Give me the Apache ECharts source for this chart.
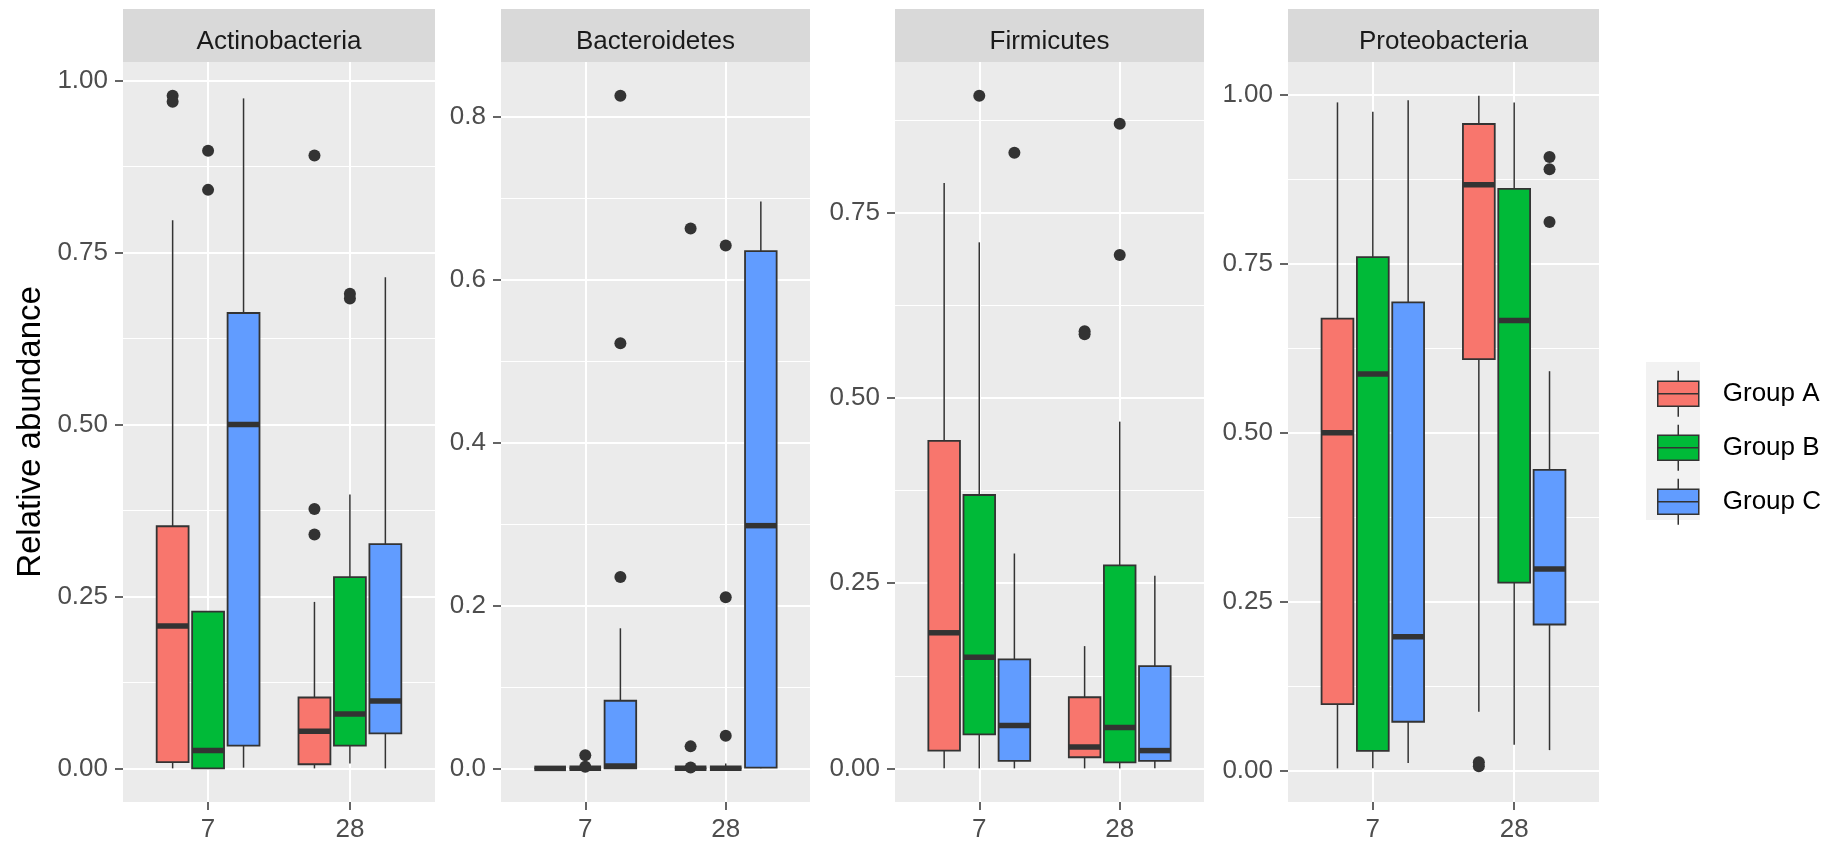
<!DOCTYPE html>
<html>
<head>
<meta charset="utf-8">
<title>Relative abundance by phylum</title>
<script src="https://cdn.jsdelivr.net/npm/echarts@6/dist/echarts.min.js"></script>
<style>
  html, body { margin: 0; padding: 0; background: #fff; }
  #chart { width: 1830px; height: 846px; }
</style>
</head>
<body>
<div id="chart"></div>
<script>
const phyla = ['Actinobacteria', 'Bacteroidetes', 'Firmicutes', 'Proteobacteria'];
const days = ['7', '28'];
const groups = ['Group A', 'Group B', 'Group C'];
const groupColors = ['#F8766D', '#00BA38', '#619CFF'];

// per day, per group: [lower whisker, q1, median, q3, upper whisker]
const actinoBoxes = [
  [[0.000, 0.009, 0.207, 0.352, 0.797], [0.000, 0.000, 0.026, 0.228, 0.228], [0.001, 0.033, 0.500, 0.662, 0.974]],
  [[0.000, 0.006, 0.054, 0.103, 0.242], [0.007, 0.033, 0.079, 0.278, 0.398], [0.000, 0.051, 0.098, 0.326, 0.714]]
];
const actinoOutliers = [
  [[0.978, 0.969], [0.898, 0.841], []],
  [[0.891, 0.377, 0.340], [0.690, 0.683], []]
];

const bacteroBoxes = [
  [[0.000, 0.000, 0.000, 0.000, 0.000], [0.000, 0.000, 0.000, 0.000, 0.000], [0.000, 0.000, 0.003, 0.083, 0.172]],
  [[0.000, 0.000, 0.000, 0.000, 0.000], [0.000, 0.000, 0.000, 0.000, 0.006], [0.000, 0.001, 0.298, 0.635, 0.696]]
];
const bacteroOutliers = [
  [[], [0.016, 0.002], [0.826, 0.522, 0.235]],
  [[0.663, 0.027, 0.001], [0.642, 0.210, 0.040], []]
];

const firmiBoxes = [
  [[0.000, 0.024, 0.183, 0.442, 0.790], [0.000, 0.046, 0.150, 0.369, 0.710], [0.000, 0.010, 0.058, 0.147, 0.290]],
  [[0.000, 0.015, 0.029, 0.096, 0.165], [0.000, 0.008, 0.055, 0.274, 0.468], [0.000, 0.010, 0.024, 0.138, 0.260]]
];
const firmiOutliers = [
  [[], [0.908], [0.831]],
  [[0.590, 0.586], [0.870, 0.693], []]
];

const proteoBoxes = [
  [[0.003, 0.098, 0.500, 0.669, 0.989], [0.003, 0.029, 0.587, 0.760, 0.975], [0.011, 0.072, 0.198, 0.693, 0.992]],
  [[0.087, 0.609, 0.867, 0.957, 0.999], [0.038, 0.278, 0.666, 0.861, 0.989], [0.030, 0.216, 0.298, 0.445, 0.591]]
];
const proteoOutliers = [
  [[], [], []],
  [[0.012, 0.006], [], [0.908, 0.890, 0.812]]
];

// tick labels
const actinoTicks = [0, 0.25, 0.5, 0.75, 1];
const bacteroTicks = [0, 0.2, 0.4, 0.6, 0.8];
const firmiTicks = [0, 0.25, 0.5, 0.75];
const proteoTicks = [0, 0.25, 0.5, 0.75, 1];
const actinoMinor = [0.125, 0.375, 0.625, 0.875];
const bacteroMinor = [0.1, 0.3, 0.5, 0.7];
const firmiMinor = [0.125, 0.375, 0.625, 0.875];
const proteoMinor = [0.125, 0.375, 0.625, 0.875];
const tickDigits = [2, 1, 2, 2];

const boxData = [actinoBoxes, bacteroBoxes, firmiBoxes, proteoBoxes];
const outlierData = [actinoOutliers, bacteroOutliers, firmiOutliers, proteoOutliers];
const majorTicks = [actinoTicks, bacteroTicks, firmiTicks, proteoTicks];
const minorTicks = [actinoMinor, bacteroMinor, firmiMinor, proteoMinor];

// layout (pixels)
const panelLeft = [123, 501, 895, 1288];
const panelWidth = [312, 309, 309, 311];
const panelTop = 62, panelHeight = 740;
const stripTop = 9, stripHeight = 53;

const FONT = '"Liberation Sans", Arial, sans-serif';
const dodge = [-0.25, 0, 0.25];
const boxWidth = 0.225;
const ink = '#333333';

// ggplot-like 5% expansion
function yRange(i) {
  let all = [];
  boxData[i].forEach(d => d.forEach(g => all = all.concat(g)));
  outlierData[i].forEach(d => d.forEach(g => all = all.concat(g)));
  const lo = Math.min(...all), hi = Math.max(...all);
  const pad = (hi - lo) * 0.05;
  return [lo - pad, hi + pad];
}

function renderBox(params, api) {
  const x = api.value(0);
  const pLo = api.coord([x, api.value(1)]);
  const pQ1 = api.coord([x, api.value(2)]);
  const pMed = api.coord([x, api.value(3)]);
  const pQ3 = api.coord([x, api.value(4)]);
  const pHi = api.coord([x, api.value(5)]);
  const w = api.size([boxWidth, 0])[0];
  const cx = pLo[0];
  const fill = api.visual('color');
  return {
    type: 'group',
    children: [
      { type: 'line', shape: { x1: cx, y1: pHi[1], x2: cx, y2: pQ3[1] }, style: { stroke: ink, lineWidth: 1.5 } },
      { type: 'line', shape: { x1: cx, y1: pQ1[1], x2: cx, y2: pLo[1] }, style: { stroke: ink, lineWidth: 1.5 } },
      { type: 'rect', shape: { x: cx - w / 2, y: pQ3[1], width: w, height: pQ1[1] - pQ3[1] },
        style: { fill: fill, stroke: ink, lineWidth: 1.8 } },
      { type: 'line', shape: { x1: cx - w / 2, y1: pMed[1], x2: cx + w / 2, y2: pMed[1] },
        style: { stroke: ink, lineWidth: 5.5 } }
    ]
  };
}

const grids = [], xAxes = [], yAxes = [], series = [], graphics = [];

phyla.forEach((name, i) => {
  const [ymin, ymax] = yRange(i);
  grids.push({
    left: panelLeft[i], top: panelTop, width: panelWidth[i], height: panelHeight,
    show: true, backgroundColor: '#EBEBEB', borderWidth: 0
  });
  xAxes.push({
    gridIndex: i, type: 'value', min: 0.4, max: 2.6, position: 'bottom',
    axisLine: { show: false, onZero: false },
    axisTick: { show: true, length: 8, customValues: [1, 2], lineStyle: { color: ink, width: 1.5 } },
    axisLabel: { customValues: [1, 2], formatter: v => days[Math.round(v) - 1],
      fontSize: 26, color: '#4D4D4D', fontFamily: FONT, margin: 15 },
    splitLine: { show: true, lineStyle: { color: '#FFFFFF', width: 2 } }
  });
  yAxes.push({
    gridIndex: i, type: 'value', min: ymin, max: ymax,
    axisLine: { show: false, onZero: false },
    axisTick: { show: true, length: 8, customValues: majorTicks[i], lineStyle: { color: ink, width: 1.5 } },
    axisLabel: { customValues: majorTicks[i], formatter: v => v.toFixed(tickDigits[i]),
      fontSize: 26, color: '#4D4D4D', fontFamily: FONT, margin: 15, padding: [6, 0, 0, 0] },
    splitLine: { show: true, lineStyle: { color: '#FFFFFF', width: 2 } },
    name: i === 0 ? 'Relative abundance' : '',
    nameLocation: 'middle', nameGap: 76,
    nameTextStyle: { fontSize: 33, color: '#000000', fontFamily: FONT }
  });
  yAxes.push({
    gridIndex: i, type: 'value', min: ymin, max: ymax, position: 'left',
    axisLine: { show: false, onZero: false },
    axisTick: { show: false, customValues: minorTicks[i] },
    axisLabel: { show: false },
    splitLine: { show: true, lineStyle: { color: '#FFFFFF', width: 1 } }
  });

  groups.forEach((g, gi) => {
    series.push({
      type: 'custom', name: g,
      xAxisIndex: i, yAxisIndex: 2 * i,
      itemStyle: { color: groupColors[gi] },
      renderItem: renderBox,
      encode: { x: 0, y: [1, 2, 3, 4, 5] },
      data: days.map((d, di) => [di + 1 + dodge[gi]].concat(boxData[i][di][gi])),
      z: 2, silent: true
    });
  });

  const pts = [];
  days.forEach((d, di) => groups.forEach((g, gi) => {
    outlierData[i][di][gi].forEach(v => pts.push([di + 1 + dodge[gi], v]));
  }));
  series.push({
    type: 'scatter', xAxisIndex: i, yAxisIndex: 2 * i,
    symbolSize: 12, itemStyle: { color: ink, opacity: 1 },
    data: pts, z: 3, silent: true
  });

  // facet strip
  graphics.push({
    type: 'rect', left: panelLeft[i], top: stripTop, z: 0,
    shape: { width: panelWidth[i], height: stripHeight }, style: { fill: '#D9D9D9' }
  });
  graphics.push({
    type: 'text', x: panelLeft[i] + panelWidth[i] / 2, y: 41.5, z: 1,
    style: { text: name, fontSize: 26, fontFamily: FONT, fill: '#1A1A1A', align: 'center', verticalAlign: 'middle' }
  });
});

// legend key background
graphics.push({
  type: 'rect', left: 1646, top: 362, z: 0,
  shape: { width: 54, height: 158 }, style: { fill: '#F2F2F2' }
});

const boxIcon = 'path://M20.5 0V10.5M0 10.5H41V23H0ZM0 23H41V35.5H0ZM20.5 35.5V46';

const option = {
  animation: false,
  grid: grids,
  xAxis: xAxes,
  yAxis: yAxes,
  series: series,
  graphic: graphics,
  legend: {
    data: groups.map(n => ({ name: n, icon: boxIcon })),
    orient: 'vertical', left: 1652, top: 365,
    itemWidth: 41, itemHeight: 46, itemGap: 6.5,
    selectedMode: false, z: 5,
    itemStyle: { borderColor: ink, borderWidth: 1.5 },
    textStyle: { fontSize: 26, color: '#000000', fontFamily: FONT, padding: [0, 0, 0, 19] }
  }
};

const chart = echarts.init(document.getElementById('chart'));
chart.setOption(option);
window.addEventListener('resize', () => chart.resize());
</script>
</body>
</html>
